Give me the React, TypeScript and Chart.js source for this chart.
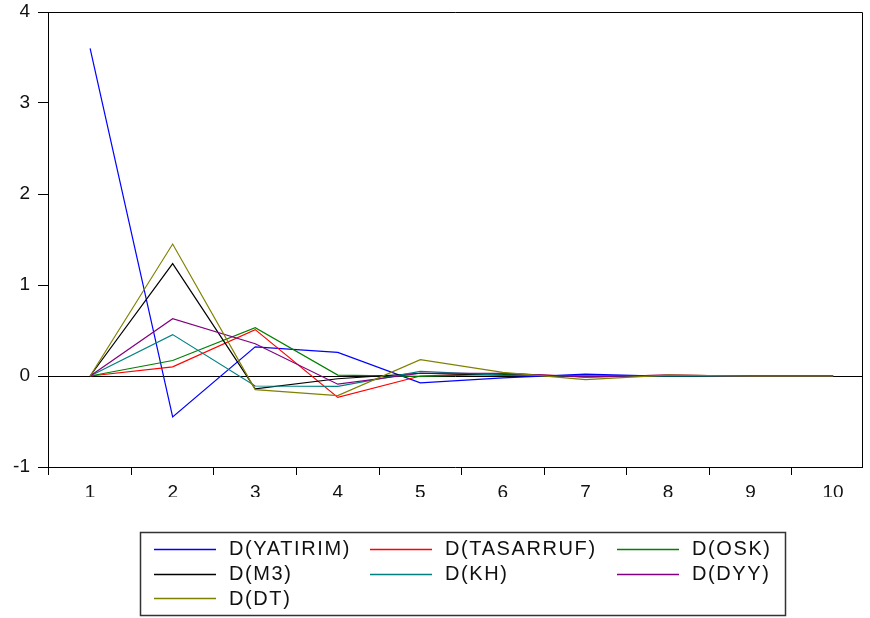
import React, { useEffect, useRef } from "react";
import { Chart, registerables } from "chart.js";

Chart.register(...registerables);

const periods = [1, 2, 3, 4, 5, 6, 7, 8, 9, 10];
const yTicks = [-1, 0, 1, 2, 3, 4];

const seriesNames = ["D(YATIRIM)", "D(TASARRUF)", "D(OSK)", "D(M3)", "D(KH)", "D(DYY)", "D(DT)"];
const seriesColors = ["#0000FF", "#FF0000", "#008000", "#000000", "#008080", "#800080", "#808000"];

const yatirim = [3.6, -0.45, 0.32, 0.26, -0.075, -0.02, 0.02, -0.005, 0.0, 0.0];
const tasarruf = [0.0, 0.1, 0.51, -0.235, 0.0, 0.03, -0.01, 0.01, 0.0, 0.0];
const osk = [0.0, 0.17, 0.53, 0.01, -0.005, 0.02, -0.01, 0.0, 0.0, 0.0];
const m3 = [0.0, 1.235, -0.14, -0.03, 0.03, 0.01, 0.0, 0.0, 0.0, 0.0];
const kh = [0.0, 0.455, -0.11, -0.115, 0.05, 0.01, 0.0, 0.0, 0.0, 0.0];
const dyy = [0.0, 0.63, 0.355, -0.09, 0.03, 0.03, -0.01, 0.01, 0.0, 0.0];
const dt = [0.0, 1.45, -0.15, -0.215, 0.18, 0.04, -0.04, 0.01, 0.0, 0.0];

const seriesValues = [yatirim, tasarruf, osk, m3, kh, dyy, dt];

const FONT = "'Liberation Sans', Arial, sans-serif";

const framePlugin = {
  id: "frame",
  afterDraw(chart: any) {
    const { ctx, chartArea } = chart;
    ctx.save();
    ctx.strokeStyle = "#000";
    ctx.lineWidth = 1;
    ctx.beginPath();
    ctx.moveTo(chartArea.left, chartArea.top + 0.5);
    ctx.lineTo(chartArea.right + 0.5, chartArea.top + 0.5);
    ctx.lineTo(chartArea.right + 0.5, chartArea.bottom);
    ctx.stroke();
    ctx.restore();
  },
};

const legendPlugin = {
  id: "boxLegend",
  afterDraw(chart: any) {
    const { ctx } = chart;
    const boxL = 140.5, boxT = 532.5, boxR = 785.5, boxB = 615.5;
    const colX = [154, 370, 617];
    const rowY = [548.5, 573.5, 598];
    const lineLen = 62;
    const textGap = 75;
    ctx.save();
    ctx.strokeStyle = "#333";
    ctx.lineWidth = 1.5;
    ctx.strokeRect(boxL, boxT, boxR - boxL, boxB - boxT);
    ctx.font = `20px ${FONT}`;
    ctx.textBaseline = "middle";
    ctx.textAlign = "left";
    try { (ctx as any).letterSpacing = "1.6px"; } catch (e) {}
    chart.data.datasets.forEach((ds: any, i: number) => {
      const c = i % 3;
      const r = Math.floor(i / 3);
      const x = colX[c];
      const y = rowY[r];
      ctx.strokeStyle = ds.borderColor;
      ctx.lineWidth = 1.5;
      ctx.beginPath();
      ctx.moveTo(x, Math.round(y) + 0.5);
      ctx.lineTo(x + lineLen, Math.round(y) + 0.5);
      ctx.stroke();
      ctx.fillStyle = "#111";
      ctx.fillText(ds.label, x + textGap, y + 1);
    });
    ctx.restore();
  },
};

export default function App() {
  const ref = useRef<HTMLCanvasElement | null>(null);

  useEffect(() => {
    document.body.style.margin = "0";
    const canvas = ref.current;
    if (!canvas) return;
    const n = seriesNames.length;
    const chart = new Chart(canvas, {
      type: "line",
      data: {
        datasets: seriesNames.map((name, i) => ({
          label: name,
          data: periods.map((p, k) => ({ x: p, y: seriesValues[i][k] })),
          borderColor: seriesColors[i],
          backgroundColor: seriesColors[i],
          borderWidth: 1.2,
          pointRadius: 0,
          tension: 0,
          fill: false,
          order: n - 1 - i,
        })),
      },
      options: {
        animation: false,
        responsive: false,
        maintainAspectRatio: false,
        events: [],
        layout: { padding: { top: 12, right: 8, bottom: 121, left: 0 } },
        plugins: {
          legend: { display: false },
          tooltip: { enabled: false },
          title: { display: false },
        },
        scales: {
          x: {
            type: "linear",
            min: 0.49,
            max: 10.35,
            afterBuildTicks: (scale: any) => {
              scale.ticks = periods.map((v) => ({ value: v }));
            },
            afterFit: (scale: any) => {
              scale.height = 30;
              scale.paddingLeft = 0;
              scale.paddingRight = 0;
            },
            ticks: {
              autoSkip: false,
              maxRotation: 0,
              padding: 6,
              color: "#111",
              font: { size: 19, family: FONT },
              callback: (v: any) => String(v),
            },
            grid: {
              display: true,
              offset: true,
              drawOnChartArea: false,
              drawTicks: true,
              tickLength: 8,
              color: "#000",
              tickColor: "#000",
            },
            border: { display: true, color: "#000", width: 1 },
          },
          y: {
            type: "linear",
            min: -1,
            max: 4,
            afterBuildTicks: (scale: any) => {
              scale.ticks = yTicks.map((v) => ({ value: v }));
            },
            afterFit: (scale: any) => {
              scale.width = 48;
              scale.paddingTop = 0;
              scale.paddingBottom = 0;
            },
            ticks: {
              padding: 8,
              color: "#111",
              font: { size: 19, family: FONT },
              callback: (v: any) => String(v),
            },
            grid: {
              display: true,
              drawOnChartArea: true,
              drawTicks: true,
              tickLength: 10,
              color: (c: any) => (c.tick && c.tick.value === 0 ? "#000" : "rgba(0,0,0,0)"),
              tickColor: "#000",
              lineWidth: 1,
            },
            border: { display: true, color: "#000", width: 1 },
          },
        },
      },
      plugins: [framePlugin, legendPlugin],
    });
    return () => chart.destroy();
  }, []);

  return (
    <div style={{ width: 870, height: 618, background: "#fff" }}>
      <canvas ref={ref} width={870} height={618} style={{ display: "block" }} />
    </div>
  );
}
